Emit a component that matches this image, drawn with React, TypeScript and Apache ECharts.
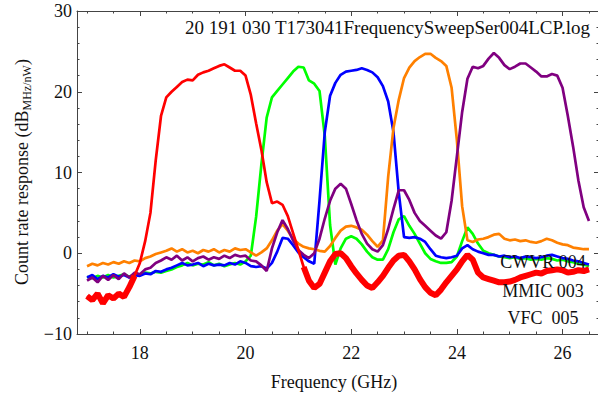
import React, { useEffect, useRef } from "react";
import * as echarts from "echarts";

const FREQ = [
  17.0, 17.1, 17.2, 17.3, 17.4, 17.5, 17.6, 17.7, 17.8, 17.9,
  18.0, 18.1, 18.2, 18.3, 18.4, 18.5, 18.6, 18.7, 18.8, 18.9,
  19.0, 19.1, 19.2, 19.3, 19.4, 19.5, 19.6, 19.7, 19.8, 19.9,
  20.0, 20.1, 20.2, 20.3, 20.4, 20.5, 20.6, 20.7, 20.8, 20.9,
  21.0, 21.1, 21.2, 21.3, 21.4, 21.5, 21.6, 21.7, 21.8, 21.9,
  22.0, 22.1, 22.2, 22.3, 22.4, 22.5, 22.6, 22.7, 22.8, 22.9,
  23.0, 23.1, 23.2, 23.3, 23.4, 23.5, 23.6, 23.7, 23.8, 23.9,
  24.0, 24.1, 24.2, 24.3, 24.4, 24.5, 24.6, 24.7, 24.8, 24.9,
  25.0, 25.1, 25.2, 25.3, 25.4, 25.5, 25.6, 25.7, 25.8, 25.9,
  26.0, 26.1, 26.2, 26.3, 26.4, 26.5,
];

const RED = [
  -5.3, -5.8, -5.0, -6.2, -5.2, -5.6, -5.0, -5.4, -4.2, -2.8,
  -1.2, 1.5, 5.0, 11.5, 17.0, 19.3, 20.0, 20.6, 21.2, 21.5,
  21.4, 22.1, 22.4, 22.6, 22.9, 23.2, 23.4, 23.0, 22.6, 22.6,
  22.0, 19.6, 16.1, 12.8, 8.8, 6.2, 6.4, 6.0, 4.6, 2.5,
  0.4, -1.7, -3.4, -4.3, -3.8, -2.4, -1.0, -0.1, 0.0, -0.6,
  -1.6, -2.5, -3.3, -4.0, -4.3, -3.6, -2.8, -1.8, -0.9, -0.3,
  -0.2, -1.0, -2.0, -3.2, -4.2, -4.9, -5.2, -4.5, -3.6, -2.8,
  -2.0, -1.0, -0.2, -0.8, -2.4, -3.0, -3.2, -3.4, -3.6, -3.6,
  -3.5, -3.3, -3.0, -2.8, -2.6, -2.4, -2.5, -2.2, -2.1, -2.0,
  -2.1, -2.4, -2.3, -2.1, -2.2, -2.0,
];

const GREEN = [
  -2.9, -3.1, -2.8, -3.0, -2.7, -3.0, -2.8, -2.6, -2.9, -2.6,
  -2.7, -2.4, -2.5, -2.3, -2.4, -2.2, -2.0, -1.7, -1.5, -1.2,
  -1.5, -1.3, -1.4, -1.1, -1.5, -1.3, -1.6, -1.4, -1.2, -1.4,
  -1.0, -0.3, 4.5, 11.0, 16.8, 19.3, 20.1, 20.9, 21.7, 22.5,
  23.1, 23.0, 21.4, 21.0, 20.1, 14.5, 3.5, -1.4, 0.6, 1.8,
  2.1, 1.8, 1.1, 0.2, -0.5, -0.8, -0.8, 0.5, 2.6, 4.2,
  4.6, 3.4, 2.4, 1.2, 0.0, -0.7, -1.0, -1.2, -1.2, -1.1,
  -0.4, 1.5, 3.2, 2.4, 1.2, 0.3, 0.0, -0.2, -0.4, -0.5,
  -0.6, -0.5, -0.7, -0.6, -0.8, -0.7, -0.8, -0.6, -0.7, -0.9,
  -0.8, -1.0, -1.1, -1.3, -1.4, -1.6,
];

const BLUE = [
  -3.0, -2.7, -3.2, -2.8, -3.0, -2.6, -2.9, -2.7, -3.0, -2.7,
  -2.8, -2.5, -2.6, -2.2, -2.3, -2.0, -1.8, -1.5, -1.2, -1.5,
  -1.4, -1.2, -1.6, -1.3, -1.5, -1.4, -1.5, -1.2, -1.4, -1.0,
  -1.2, -1.6, -1.7, -1.6, -1.9, -1.2, 0.2, 1.9, 1.8, 1.0,
  0.1, -0.5, -1.0, -1.3, 6.5, 15.0, 19.5, 21.1, 22.1, 22.5,
  22.6, 22.7, 22.9, 22.7, 22.4, 21.8, 20.7, 18.8, 15.0, 7.5,
  2.0, 1.9, 2.0, 1.8, 1.4, 0.5, -0.3, -0.5, -0.6, -0.5,
  -0.3, 0.6, 1.0, 0.5, 0.2, 0.0, -0.2, -0.2, -0.4, -0.3,
  -0.5, -0.4, -0.6, -0.4, -0.5, -0.6, -0.5, -0.3, -0.2, -0.4,
  -0.6, -0.7, -0.9, -1.0, -1.2, -1.4,
];

const ORANGE = [
  -1.6, -1.3, -1.5, -1.2, -1.4, -1.1, -1.3, -1.0, -1.2, -0.9,
  -1.0, -0.6, -0.4, -0.1, 0.1, 0.3, 0.6, 0.2, 0.5, 0.1,
  0.3, 0.0, 0.4, 0.2, 0.5, 0.1, 0.4, 0.2, 0.6, 0.4,
  0.5, 0.1, -0.3, 0.1, 0.6, 1.6, 2.8, 3.6, 2.8, 1.8,
  1.2, 0.8, 0.6, 0.5, 0.3, 0.2, 0.9, 1.9, 2.8, 3.3,
  3.4, 3.2, 2.9, 2.3, 1.5, 0.8, 1.6, 9.5, 15.5, 19.0,
  21.7, 23.0, 23.8, 24.3, 24.7, 24.7, 24.2, 23.8, 23.2, 20.5,
  14.0, 5.8, 1.6, 1.4, 1.7, 1.8, 2.0, 2.3, 2.4, 1.8,
  1.6, 1.7, 1.5, 1.6, 1.4, 1.3, 1.5, 1.8, 1.6, 1.3,
  1.1, 1.0, 0.7, 0.6, 0.5, 0.5,
];

const PURPLE = [
  -3.4, -3.0, -3.6, -2.8, -3.3, -2.7, -3.2, -2.5, -3.0, -2.4,
  -2.6, -2.0, -1.8, -1.2, -0.9, -0.5, -0.8, -0.3, -0.9, -0.5,
  -1.0, -0.6, -0.4, -0.8, -0.5, -0.7, -0.3, -0.6, -0.2, -0.4,
  -0.3, -0.9, -1.0, -1.5, -2.2, 0.6, 2.6, 4.1, 3.0, 1.6,
  0.4, -0.2, -0.6, 0.0, 1.8, 4.3, 6.5, 8.0, 8.6, 8.0,
  6.1, 4.1, 2.4, 1.2, 0.5, 0.2, 1.0, 3.0, 5.5, 7.8,
  7.8, 6.6, 5.0, 4.0, 3.4, 2.8, 2.2, 1.8, 2.6, 6.5,
  12.0, 17.5, 21.6, 23.1, 22.9, 23.2, 24.1, 24.8, 24.2, 23.3,
  22.8, 23.1, 23.5, 23.5, 23.0, 22.5, 21.9, 21.9, 22.2, 22.0,
  20.5, 17.0, 13.2, 9.0, 5.7, 4.0,
];

const X_TICK_LABELS = [18, 20, 22, 24, 26];
const TITLE = "20 191 030 T173041FrequencySweepSer004LCP.log";
const NOTES = ["CWVR 004", "MMIC 003", "VFC  005"];

const FONT = "'Liberation Serif', 'DejaVu Serif', serif";
const AXIS_COLOR = "#444";

function pairs(vals: number[]) {
  return FREQ.map((f, i) => [f, vals[i]]);
}

function noisyPart(vals: number[]) {
  return FREQ.map((f, i) => [f, f < 17.95 || f > 21.05 ? vals[i] : null]);
}

export default function App() {
  const ref = useRef<HTMLDivElement>(null);

  useEffect(() => {
    document.body.style.margin = "0";
    document.body.style.overflow = "hidden";
    if (!ref.current) return;
    const chart = echarts.init(ref.current, undefined, { renderer: "svg" });

    const tickCommon = {
      axisLine: { show: true, onZero: false, lineStyle: { color: AXIS_COLOR, width: 1 } },
      axisTick: { show: true, inside: true, length: 5, lineStyle: { color: AXIS_COLOR } },
      splitLine: { show: false },
    };

    const xCommon = {
      type: "value" as const,
      min: 16.81,
      max: 26.69,
      ...tickCommon,
      minorTick: { show: true, splitNumber: 4, length: 2.5, lineStyle: { color: AXIS_COLOR } },
      minorSplitLine: { show: false },
    };

    const yCommon = {
      type: "value" as const,
      min: -10,
      max: 30,
      interval: 10,
      ...tickCommon,
      minorTick: { show: true, splitNumber: 5, length: 2.5, lineStyle: { color: AXIS_COLOR } },
      minorSplitLine: { show: false },
    };

    const line = (name: string, vals: number[], color: string, width = 2.7, z = 2) => ({
      name,
      type: "line" as const,
      data: pairs(vals),
      showSymbol: false,
      symbol: "none",
      lineStyle: { color, width },
      z,
      xAxisIndex: 0,
      yAxisIndex: 0,
    });

    chart.setOption({
      animation: false,
      grid: { left: 77, right: 1, top: 11, bottom: 64, containLabel: false },
      xAxis: [
        {
          ...xCommon,
          position: "bottom",
          axisLabel: {
            show: true,
            margin: 10,
            fontFamily: FONT,
            fontSize: 18,
            color: "#111",
            formatter: (v: number) =>
              X_TICK_LABELS.some((t) => Math.abs(t - v) < 1e-6) ? String(Math.round(v)) : "",
          },
        },
        { ...xCommon, position: "top", axisLabel: { show: false } },
      ],
      yAxis: [
        {
          ...yCommon,
          position: "left",
          axisLabel: {
            show: true,
            margin: 5,
            fontFamily: FONT,
            fontSize: 18,
            color: "#111",
            formatter: (v: number) => (v < 0 ? "\u2212" + Math.abs(v) : String(v)),
          },
        },
        { ...yCommon, position: "right", axisLabel: { show: false } },
      ],
      series: [
        line("green", GREEN, "#00ff00", 2.7, 2),
        line("blue", BLUE, "#0000ff", 2.7, 3),
        line("orange", ORANGE, "#ff8000", 2.7, 4),
        line("purple", PURPLE, "#800080", 2.7, 5),
        line("red", RED, "#ff0000", 2.7, 6),
        {
          name: "red noise",
          type: "line",
          data: noisyPart(RED),
          showSymbol: false,
          symbol: "none",
          connectNulls: false,
          lineStyle: { color: "#ff0000", width: 6 },
          z: 6,
        },
      ],
      graphic: [
        {
          type: "text",
          x: 590,
          y: 27,
          z: 100,
          style: {
            text: TITLE,
            font: `19px ${FONT}`,
            fill: "#111",
            align: "right",
            verticalAlign: "middle",
          },
        },
        ...NOTES.map((t, i) => ({
          type: "text",
          x: 543,
          y: [262, 291, 318][i],
          z: 100,
          style: {
            text: t,
            font: `18px ${FONT}`,
            fill: "#111",
            align: "center",
            verticalAlign: "middle",
          },
        })),
        {
          type: "text",
          x: 334,
          y: 382,
          z: 100,
          style: {
            text: "Frequency (GHz)",
            font: `18px ${FONT}`,
            fill: "#111",
            align: "center",
            verticalAlign: "middle",
          },
        },
        {
          type: "text",
          x: 22,
          y: 172,
          rotation: Math.PI / 2,
          z: 100,
          style: {
            text: "{m|Count rate response (dB}{s|MHz/nW}{m|)}",
            align: "center",
            verticalAlign: "middle",
            fill: "#111",
            rich: {
              m: { fontFamily: FONT, fontSize: 18, lineHeight: 22, fill: "#111", color: "#111" },
              s: {
                fontFamily: FONT,
                fontSize: 12,
                lineHeight: 12,
                verticalAlign: "bottom",
                fill: "#111",
                color: "#111",
              },
            },
          },
        },
      ],
    });

    return () => chart.dispose();
  }, []);

  return <div ref={ref} style={{ width: 602, height: 398 }} />;
}
